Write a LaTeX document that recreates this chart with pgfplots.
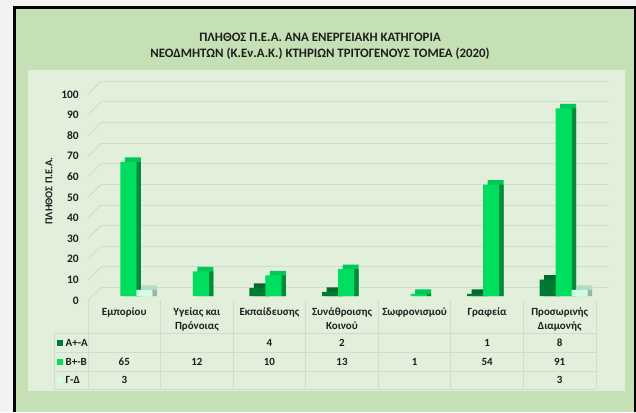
\documentclass[border=0pt]{standalone}
\usepackage{fontspec}
\setmainfont{Carlito}
\usepackage{pgfplots}
\pgfplotsset{compat=1.18}
\definecolor{outerc}{HTML}{F2F2F2}
\definecolor{framec}{HTML}{C5E0B4}
\definecolor{innerc}{HTML}{E2EFDA}
\definecolor{gridc}{HTML}{D3DAD0}
\definecolor{tabc}{HTML}{D3DAD0}
\definecolor{txt}{HTML}{1E1E1E}
\definecolor{Afront}{HTML}{007A33}
\definecolor{Atop}{HTML}{006A2C}
\definecolor{Aside}{HTML}{004E20}
\definecolor{Bfront}{HTML}{00DE60}
\definecolor{Btop}{HTML}{00C856}
\definecolor{Bside}{HTML}{008C3B}
\definecolor{Gfront}{HTML}{CCFFE5}
\definecolor{Gtop}{HTML}{B5DBC4}
\definecolor{Gside}{HTML}{96B8A3}
\begin{document}
\begin{tikzpicture}[x=1bp,y=1bp]
\fill[outerc] (0,0) rectangle (636,412);
\fill[black] (13,0) rectangle (636,406);
\fill[framec] (16,0) rectangle (634,403);
\fill[innerc] (27.5,21) rectangle (625,342);
% title
\node[anchor=base, font=\bfseries\fontsize{12.9}{15}\selectfont, text=txt, inner sep=0pt] at (320,371) {ΠΛΗΘΟΣ Π.Ε.Α. ΑΝΑ ΕΝΕΡΓΕΙΑΚΗ ΚΑΤΗΓΟΡΙΑ};
\node[anchor=base, font=\bfseries\fontsize{12.9}{15}\selectfont, text=txt, inner sep=0pt] at (320,355) {ΝΕΟΔΜΗΤΩΝ (Κ.Εν.Α.Κ.) ΚΤΗΡΙΩΝ ΤΡΙΤΟΓΕΝΟΥΣ ΤΟΜΕΑ (2020)};
% y label
\node[rotate=90, font=\bfseries\fontsize{10.5}{12}\selectfont, text=txt, inner sep=0pt] at (49,221) {ΠΛΗΘΟΣ Π.Ε.Α.};
\begin{axis}[
  at={(88bp,111.5bp)}, anchor=south west,
  scale only axis, width=508bp, height=206.2bp,
  xmin=-0.5, xmax=6.5, ymin=0, ymax=100,
  axis line style={draw=none},
  xtick=\empty, ytick={0,10,...,100},
  ymajorgrids,
  major grid style={gridc, line width=1bp, xshift=13bp, yshift=13bp},
  tick style={draw=none}, major tick length=0pt,
  yticklabel style={anchor=east, inner sep=0pt, xshift=-9bp, font=\bfseries\fontsize{11.5}{13}\selectfont, text=txt},
  /pgf/number format/assume math mode=true,
  clip=false,
]
\pgfplotsinvokeforeach{0,10,...,100}{
  \draw[gridc, line width=1bp] (axis cs:-0.5,#1) -- ++(13bp,13bp);
}
% top faces (drawn as offset shadows, raised by the face depth)
\addplot[ybar, bar width=16bp, bar shift=-7.5bp, yshift=4.5bp, y filter/.expression={y+2.18}, fill=Atop, draw=none] coordinates {(2,4) (3,2) (5,1) (6,8)};
\addplot[ybar, bar width=16bp, bar shift=8.5bp, yshift=4.5bp, y filter/.expression={y+2.18}, fill=Btop, draw=none] coordinates {(0,65) (1,12) (2,10) (3,13) (4,1) (5,54) (6,91)};
\addplot[ybar, bar width=16bp, bar shift=24.5bp, yshift=4.5bp, y filter/.expression={y+2.18}, fill=Gtop, draw=none] coordinates {(0,3) (6,3)};
% side faces
\addplot[ybar, bar width=4.5bp, bar shift=-1.75bp, yshift=4.5bp, fill=Aside, draw=none] coordinates {(2,4) (3,2) (5,1) (6,8)};
\addplot[ybar, bar width=4.5bp, bar shift=14.25bp, yshift=4.5bp, fill=Bside, draw=none] coordinates {(0,65) (1,12) (2,10) (3,13) (4,1) (5,54) (6,91)};
\addplot[ybar, bar width=4.5bp, bar shift=30.25bp, yshift=4.5bp, fill=Gside, draw=none] coordinates {(0,3) (6,3)};
% front faces
\addplot[ybar, bar width=16bp, bar shift=-12bp, yshift=4.5bp, fill=Afront, draw=none] coordinates {(2,4) (3,2) (5,1) (6,8)};
\addplot[ybar, bar width=16bp, bar shift=4bp, yshift=4.5bp, fill=Bfront, draw=none] coordinates {(0,65) (1,12) (2,10) (3,13) (4,1) (5,54) (6,91)};
\addplot[ybar, bar width=16bp, bar shift=20bp, yshift=4.5bp, fill=Gfront, draw=none] coordinates {(0,3) (6,3)};
\end{axis}
% data table
\begin{scope}[tabc, line width=1bp]
\foreach \x in {88,160.6,233.1,305.7,378.3,450.9,523.4,596} {\draw (\x,112) -- (\x,23);}
\foreach \y in {79,60,41,23} {\draw (54.3,\y) -- (596,\y);}
\draw (54.3,79) -- (54.3,23);
\end{scope}
\begin{scope}[font=\bfseries\fontsize{11}{13}\selectfont, text=txt, inner sep=0pt]
\node[anchor=base] at (124.3,97) {Εμπορίου};
\node[anchor=base] at (196.9,97) {Υγείας και};
\node[anchor=base] at (196.9,82.5) {Πρόνοιας};
\node[anchor=base] at (269.4,97) {Εκπαίδευσης};
\node[anchor=base] at (342.0,97) {Συνάθροισης};
\node[anchor=base] at (342.0,82.5) {Κοινού};
\node[anchor=base] at (414.6,97) {Σωφρονισμού};
\node[anchor=base] at (487.1,97) {Γραφεία};
\node[anchor=base] at (559.7,97) {Προσωρινής};
\node[anchor=base] at (559.7,82.5) {Διαμονής};
% row labels
\fill[Afront] (57.3,66.4) rectangle (63.3,72.4);
\node[anchor=base west] at (65.5,66) {Α+-Α};
\fill[Bfront] (57.3,47.4) rectangle (63.3,53.4);
\node[anchor=base west] at (65.5,47) {Β+-Β};
\fill[Gfront] (57.3,28.7) rectangle (63.3,34.7);
\node[anchor=base west] at (65.5,28.3) {Γ-Δ};
% row A
\node[anchor=base] at (269.4,66) {4};
\node[anchor=base] at (342.0,66) {2};
\node[anchor=base] at (487.1,66) {1};
\node[anchor=base] at (559.7,66) {8};
% row B
\node[anchor=base] at (124.3,47) {65};
\node[anchor=base] at (196.9,47) {12};
\node[anchor=base] at (269.4,47) {10};
\node[anchor=base] at (342.0,47) {13};
\node[anchor=base] at (414.6,47) {1};
\node[anchor=base] at (487.1,47) {54};
\node[anchor=base] at (559.7,47) {91};
% row G
\node[anchor=base] at (124.3,28.3) {3};
\node[anchor=base] at (559.7,28.3) {3};
\end{scope}
\end{tikzpicture}
\end{document}
